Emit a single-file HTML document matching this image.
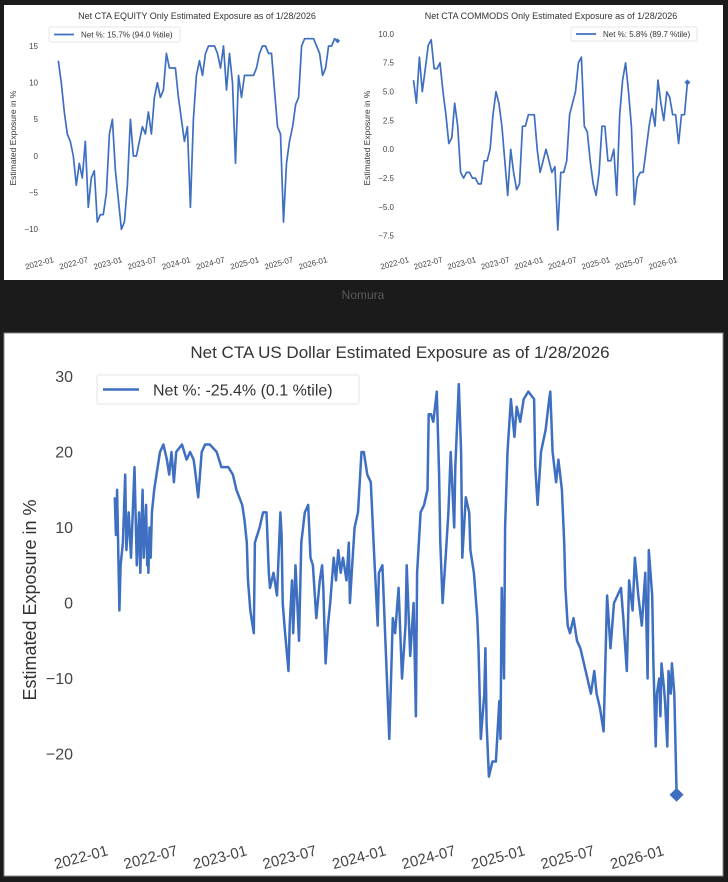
<!DOCTYPE html>
<html><head><meta charset="utf-8"><style>
html,body{margin:0;padding:0;background:#1b1b1b;width:728px;height:882px;overflow:hidden}
svg{display:block}
text{font-family:"Liberation Sans",Arial,sans-serif}
</style></head><body>
<svg id="page" width="728" height="882" viewBox="0 0 728 882">
<rect x="0" y="0" width="728" height="882" fill="#1b1b1b"/>
<rect x="4" y="5" width="719" height="275" fill="#ffffff"/>
<text x="363" y="299" font-size="12" fill="#5a5a5a" text-anchor="middle">Nomura</text>
<rect x="4" y="333" width="719" height="543" fill="#ffffff" stroke="#8a8a8a" stroke-width="1"/>

<g id="eq">
<text x="197" y="19" font-size="9" fill="#333" text-anchor="middle">Net CTA EQUITY Only Estimated Exposure as of 1/28/2026</text>
<text transform="translate(16,138) rotate(-90)" font-size="8.5" fill="#333" text-anchor="middle">Estimated Exposure in %</text>
</g>
<g id="cm">
<text x="551" y="19" font-size="9" fill="#333" text-anchor="middle">Net CTA COMMODS Only Estimated Exposure as of 1/28/2026</text>
<text transform="translate(370,138) rotate(-90)" font-size="8.5" fill="#333" text-anchor="middle">Estimated Exposure in %</text>
</g>
<g id="usd">
<text x="400" y="358" font-size="17" fill="#333" text-anchor="middle">Net CTA US Dollar Estimated Exposure as of 1/28/2026</text>
<text transform="translate(36,600) rotate(-90)" font-size="18" fill="#333" text-anchor="middle">Estimated Exposure in %</text>
</g>
</svg>
<script>
// ---------- DATA ----------
const xTickLabels = ["2022-01","2022-07","2023-01","2023-07","2024-01","2024-07","2025-01","2025-07","2026-01"];
const xTickMonths = [0,6,12,18,24,30,36,42,48];

const eqTicks = [15,10,5,0,-5,-10];
const eqTickLabels = ["15","10","5","0","\u22125","\u221210"];
const eqValues = [13,10,6,3,2,0,-4,-1,-3,2,-7,-3,-2,-9,-8,-8,-5,3,5,-2,-6,-10,-9,-4,5,0,0,2,4,3,6,3,8,10,8,9,14,12,12,12,8,5,2,4,-7,5,11,13,11,14,15,15,15,14,12,15,9,14,10,-1,11,8,11,11,11,11,12,14,15,15,14,14,9,4,3,-9,-1,2,4,7,8,15,16,16,16,16,15,14,11,12,15,15,16,15.7];
const eqLegend = "Net %:  15.7% (94.0 %tile)";

const cmTicks = [10,7.5,5,2.5,0,-2.5,-5,-7.5];
const cmTickLabels = ["10.0","7.5","5.0","2.5","0.0","\u22122.5","\u22125.0","\u22127.5"];
const cmValues = [6,4,8,5,7,9,9.5,7,7,7.5,5,3,0.5,1,4,2,-2,-2.5,-2,-2,-2.5,-2.5,-3,-3,-1,-1,0,3,5,4,2,-1,-4,0,-2,-3.5,-3,2,2,3,3,3,0,-2,-1,0,-1,-2,-1.5,-7,-2,-2,-1,3,4,5,7.5,8,2,1.5,-1,-3,-4,-2,2,2,-1,-1,0,-4,3,6,7.5,5,2,-4.8,-2.5,-2,-2,0,2,3.5,2,6,4,2.5,5,4.5,3,3,0.5,3,3,5.8];
const cmLegend = "Net %:  5.8% (89.7 %tile)";

const usdTicks = [30,20,10,0,-10,-20];
const usdTickLabels = ["30","20","10","0","\u221210","\u221220"];
const usdMonths = [0.5,0.6,0.7,0.9,1.0,1.2,1.4,1.5,1.7,1.9,2.2,2.4,2.6,2.7,2.9,3.0,3.2,3.3,3.35,3.4,3.5,3.6,3.7,3.9,4.1,4.4,4.7,5.0,5.2,5.4,5.6,5.8,6.3,6.7,7.0,7.3,7.4,7.7,8.0,8.3,8.7,9.3,9.7,10.3,10.7,11.0,11.5,11.7,11.9,12.0,12.2,12.5,12.6,13.0,13.3,13.6,13.8,13.9,14.2,14.5,14.8,14.9,15.0,15.2,15.5,15.6,15.8,15.9,16.1,16.2,16.4,16.6,16.9,17.2,17.4,17.6,17.9,18.2,18.4,18.5,18.6,18.7,18.9,19.1,19.4,19.6,19.8,20.0,20.2,20.5,20.7,20.8,21.0,21.2,21.5,21.8,
22.0,22.3,22.6,22.9,23.2,23.3,23.6,24.2,24.5,24.7,25.0,25.3,25.6,25.7,26.0,26.3,26.5,26.6,26.9,27.2,27.5,27.6,27.8,28.0,28.3,28.5,28.6,28.8,29.1,29.3,29.5,29.8,29.9,30.2,30.4,30.5,30.8,31.1,31.2,31.5,31.8,31.9,32.1,32.4,32.5,32.6,32.8,33.1,33.4,33.7,33.8,33.9,34.1,34.2,34.4,34.7,35.0,35.2,35.5,35.8,36.2,36.7,36.8,37.0,37.3,37.7,38.0,38.1,38.3,38.6,38.8,39.1,39.3,39.4,39.6,39.8,40.1,40.4,40.7,41.0,41.3,41.6,41.9,42.1,42.4,42.7,43.0,43.3,43.6,43.9,44.2,44.4,44.7,44.9,45.2,45.4,45.7,46.0,46.3,46.5,46.6,46.9,47.0,47.2,47.3,47.5,47.6,47.7,47.9,48.0,48.2,48.3,48.5,48.6,48.8,49.0];
const usdValues = [14,9,15,-1,5,8,17,7,12,6,18,5,12,4,15,6,13,5,8,4,10,6,12,15,17,20,21,19,17,20,16,20,21,19,20,19,18,14,20,21,21,20,18,18,17,15,13,11,8,3,-1,-4,8,10,12,12,4,2,4,1,12,9,0,-4,-9,-3,3,-4,5,2,-5,8,12,13,6,5,-2,3,5,2,-3,-8,-3,0,6,3,7,4,6,3,8,0,5,10,12,20,
20,17,16,6,-3,4,5,-18,-2,-4,2,-10,-3,5,-7,0,-15,4,12,13,15,25,25,24,28,17,8,0,7,12,20,10,18,29,20,6,14,12,7,4,-2,-6,-18,-12,-6,-16,-23,-21,-21,-13,-18,2,-10,10,20,27,22,26,24,27,28,27,18,13,20,23,27,28,20,16,19,15,8,2,-3,-4,-2,-5,-6,-8,-10,-12,-9,-12,-14,-17,1,-6,0,1,2,-2,-9,3,-1,6,1,-3,4,-10,7,1,-8,-19,-12,-10,-15,-8,-11,-13,-19,-9,-12,-8,-12,-25.4];
const usdLegend = "Net %:  -25.4% (0.1 %tile)";

// ---------- DRAW ----------
const NS = "http://www.w3.org/2000/svg";
function mk(tag, attrs, parent){
  const e = document.createElementNS(NS, tag);
  for (const k in attrs) e.setAttribute(k, attrs[k]);
  parent.appendChild(e);
  return e;
}
function drawChart(cfg){
  const g = document.getElementById(cfg.id);
  const xs = m => cfg.x0 + m * cfg.pxPerMonth;
  const ys = v => cfg.yZero - v * cfg.pxPerUnit;
  cfg.yTicks.forEach((v, i) => {
    const t = mk("text", {x: cfg.yLabelX, y: ys(v) + cfg.fs*0.35, "font-size": cfg.fs, fill: "#444", "text-anchor": "end"}, g);
    t.textContent = cfg.yTickLabels[i];
    
    
  });
  xTickMonths.forEach((m, i) => {
    const px = xs(m) - cfg.xLabelShift, py = cfg.xLabelY;
    const t = mk("text", {x: px, y: py, "font-size": cfg.xfs, fill: "#444", "text-anchor": "end", transform: "rotate(-15 " + px + " " + py + ")"}, g);
    t.textContent = xTickLabels[i];
    
    
  });
  const vals = cfg.values;
  const n = vals.length;
  let d = "";
  for (let i = 0; i < n; i++) {
    const m = cfg.months ? cfg.months[i] : (i / (n - 1)) * 49;
    d += (i ? "L" : "M") + xs(m).toFixed(1) + " " + ys(vals[i]).toFixed(1);
  }
  const p = mk("path", {d: d, fill: "none", stroke: "#3f6fc1", "stroke-width": cfg.lw, "stroke-linejoin": "round"}, g);
  
  
  const lm = cfg.months ? cfg.months[n - 1] : 49;
  const cx = xs(lm), cy = ys(vals[n - 1]), r = cfg.dot;
  const dm = mk("path", {d: `M${cx} ${cy-r}L${cx+r} ${cy}L${cx} ${cy+r}L${cx-r} ${cy}Z`, fill: "#3f6fc1"}, g);
  
  
  const L = cfg.legend;
  const lg = mk("g", {}, g);
  
  
  mk("rect", {x: L.x, y: L.y, width: L.w, height: L.h, rx: 2, fill: "#fff", stroke: "#e2e6ee", "stroke-width": 1}, lg);
  mk("line", {x1: L.x + L.pad, y1: L.y + L.h/2, x2: L.x + L.pad + L.line, y2: L.y + L.h/2, stroke: "#3f6fc1", "stroke-width": cfg.lw}, lg);
  const lt = mk("text", {x: L.x + L.pad + L.line + L.gap, y: L.y + L.h/2 + L.fs*0.36, "font-size": L.fs, fill: "#333"}, lg);
  lt.textContent = cfg.legendText;
  
  
}
drawChart({id:"eq", values: eqValues, yTicks: eqTicks, yTickLabels: eqTickLabels, legendText: eqLegend,
  x0: 58.3, pxPerMonth: 5.7, yZero: 156, pxPerUnit: 7.33, yLabelX: 38, fs: 8, xfs: 8, xLabelY: 262, xLabelShift: 4, lw: 1.7, dot: 2.5,
  legend: {x: 49, y: 27, w: 131, h: 15, pad: 5, line: 20, gap: 7, fs: 8}});
drawChart({id:"cm", values: cmValues, yTicks: cmTicks, yTickLabels: cmTickLabels, legendText: cmLegend,
  x0: 413.5, pxPerMonth: 5.59, yZero: 149.3, pxPerUnit: 11.53, yLabelX: 394, fs: 8, xfs: 8, xLabelY: 262, xLabelShift: 4, lw: 1.7, dot: 3,
  legend: {x: 571, y: 27, w: 126, h: 14, pad: 5, line: 20, gap: 7, fs: 8}});
drawChart({id:"usd", values: usdValues, months: usdMonths, yTicks: usdTicks, yTickLabels: usdTickLabels, legendText: usdLegend,
  x0: 109, pxPerMonth: 11.583, yZero: 603, pxPerUnit: 7.55, yLabelX: 73, fs: 16, xfs: 15, xLabelY: 855, xLabelShift: 0, lw: 2.5, dot: 7,
  legend: {x: 97, y: 375, w: 262, h: 29, pad: 6, line: 36, gap: 14, fs: 16}});
</script>
</body></html>
